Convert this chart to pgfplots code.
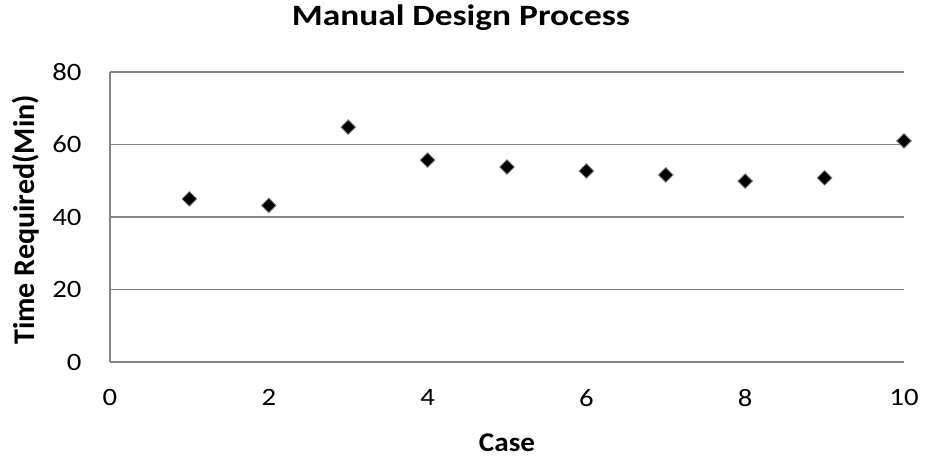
\documentclass[border=0pt]{standalone}
\usepackage{pgfplots}
\pgfplotsset{compat=1.18}
\usepackage{fontspec}
\setmainfont{Carlito}
\newfontfamily\titlefont{Carlito}[FakeStretch=1.2]
\newfontfamily\labfont{Carlito}[FakeStretch=1.08]
\newfontfamily\tickfont{Carlito}[FakeStretch=1.15]
\definecolor{gridgray}{HTML}{868686}
\begin{document}
\begin{tikzpicture}
\useasboundingbox (-110bp,-98bp) rectangle (818bp,362bp);
\begin{axis}[
  scale only axis,
  width=794bp, height=290bp,
  xmin=0, xmax=10, ymin=0, ymax=80,
  xtick={0,2,...,10}, ytick={0,20,...,80},
  axis x line*=bottom, axis y line*=left,
  axis line style={gridgray, line width=1.3bp, -},
  ymajorgrids, grid style={gridgray, line width=1.3bp},
  major tick length=0pt,
  tick label style={font=\tickfont\fontsize{25bp}{30bp}\selectfont, black},
  /pgf/number format/assume math mode=true,
  yticklabel style={xshift=-25bp},
  xticklabel style={yshift=-24bp},
  title={\bfseries Manual Design Process},
  title style={font=\titlefont\fontsize{29.5bp}{34bp}\selectfont, at={(axis description cs:0.442,1.139)}, anchor=base},
  xlabel={\bfseries Case},
  xlabel style={font=\labfont\fontsize{27bp}{32bp}\selectfont, at={(axis description cs:0.5,-0.310)}, anchor=base},
  ylabel={\bfseries Time Required(Min)},
  ylabel style={font=\fontsize{30bp}{34bp}\selectfont, at={(axis description cs:-0.0945,0.49)}, anchor=base, rotate=0},
  clip=false,
]
\addplot[only marks, mark=square*, mark size=5.2bp,
  mark options={rotate=45, fill=black, draw=gridgray, line width=0.8bp}]
  coordinates {(1,45) (2,43.2) (3,64.8) (4,55.7) (5,53.8) (6,52.7) (7,51.6) (8,49.9) (9,50.8) (10,61)};
\end{axis}
\end{tikzpicture}
\end{document}
